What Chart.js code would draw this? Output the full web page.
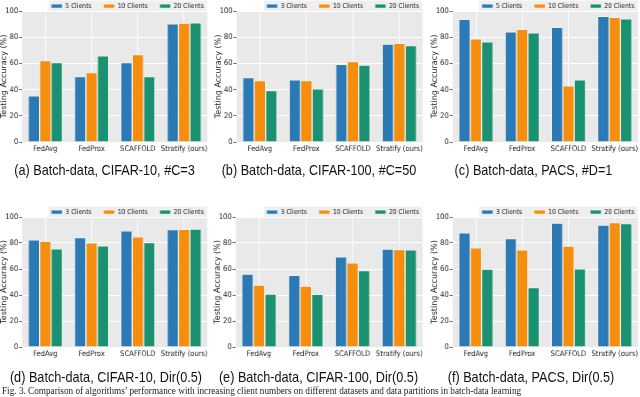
<!DOCTYPE html>
<html>
<head>
<meta charset="utf-8">
<script src="https://cdn.jsdelivr.net/npm/chart.js@4.4.1/dist/chart.umd.min.js"></script>
<style>
html, body { margin: 0; padding: 0; background: #fff; overflow: hidden; }
/* the source figure is squeezed horizontally, so lay it out wide and squeeze it the same way */
#fig { position: relative; width: 723px; height: 397px; transform: scaleX(0.886); transform-origin: 0 0; }
.cap { position: absolute; font-family: "Liberation Sans", Arial, sans-serif; font-size: 14.3px; line-height: 16px; color: #111; white-space: nowrap; transform: translateX(-50%); }
#figcap { position: absolute; font-family: "Liberation Serif", "Times New Roman", serif; font-size: 10.4px; line-height: 12px; color: #222; white-space: nowrap; }
</style>
</head>
<body>
<div id="fig"></div>
<script>
const SX = 0.886;

const methods = ['FedAvg', 'FedProx', 'SCAFFOLD', 'Stratify (ours)'];
const legend5 = ['5 Clients', '10 Clients', '20 Clients'];
const legend3 = ['3 Clients', '10 Clients', '20 Clients'];
const yTicks = [0, 20, 40, 60, 80, 100];

// (a) CIFAR-10, #C=3
const cifar10C3_small = [35.2, 50.0, 60.7, 90.3];
const cifar10C3_10 = [62.2, 53.0, 66.8, 90.8];
const cifar10C3_20 = [60.7, 65.8, 50.0, 91.0];
// (b) CIFAR-100, #C=50
const cifar100C50_small = [49.2, 47.4, 59.4, 74.7];
const cifar100C50_10 = [46.9, 46.9, 61.5, 75.3];
const cifar100C50_20 = [39.3, 40.6, 58.7, 73.7];
// (c) PACS, #D=1
const pacsD1_small = [93.6, 84.2, 87.5, 95.9];
const pacsD1_10 = [78.8, 86.0, 42.9, 95.2];
const pacsD1_20 = [76.5, 83.4, 47.4, 94.1];
// (d) CIFAR-10, Dir(0.5)
const cifar10Dir_small = [82.4, 84.2, 89.3, 90.3];
const cifar10Dir_10 = [81.4, 80.1, 84.7, 90.6];
const cifar10Dir_20 = [75.5, 77.8, 80.4, 90.8];
// (e) CIFAR-100, Dir(0.5)
const cifar100Dir_small = [56.1, 55.1, 69.4, 75.3];
const cifar100Dir_10 = [47.7, 46.9, 64.8, 75.0];
const cifar100Dir_20 = [40.8, 40.6, 58.9, 74.7];
// (f) PACS, Dir(0.5)
const pacsDir_small = [87.8, 83.4, 95.4, 93.9];
const pacsDir_10 = [76.3, 74.7, 77.6, 95.7];
const pacsDir_20 = [59.9, 45.7, 60.2, 94.9];

const colors = ['#2b79b5', '#f68e0d', '#1a9271'];

// plot boxes in page pixels (before the squeeze is undone)
const panels = [
    { L: 22, R: 207, T: 11, B: 142, names: legend5, series: [cifar10C3_small, cifar10C3_10, cifar10C3_20],
      caption: '(a) Batch-data, CIFAR-10, #C=3', cx: 104.5, cy: 162 },
    { L: 237, R: 423, T: 11, B: 142, names: legend3, series: [cifar100C50_small, cifar100C50_10, cifar100C50_20],
      caption: '(b) Batch-data, CIFAR-100, #C=50', cx: 319, cy: 162 },
    { L: 453, R: 638, T: 11, B: 142, names: legend5, series: [pacsD1_small, pacsD1_10, pacsD1_20],
      caption: '(c) Batch-data, PACS, #D=1', cx: 533.5, cy: 162 },
    { L: 22, R: 207, T: 217, B: 347, names: legend3, series: [cifar10Dir_small, cifar10Dir_10, cifar10Dir_20],
      caption: '(d) Batch-data, CIFAR-10, Dir(0.5)', cx: 106, cy: 369 },
    { L: 236, R: 423, T: 217, B: 347, names: legend3, series: [cifar100Dir_small, cifar100Dir_10, cifar100Dir_20],
      caption: '(e) Batch-data, CIFAR-100, Dir(0.5)', cx: 318.5, cy: 369 },
    { L: 453, R: 638, T: 217, B: 347, names: legend3, series: [pacsDir_small, pacsDir_10, pacsDir_20],
      caption: '(f) Batch-data, PACS, Dir(0.5)', cx: 531, cy: 369 }
];

const tickFamily = '"DejaVu Sans"';
const legendPad = 13.5;
const yAxisW = Math.round(22 / SX);
const rightPad = Math.round(9 / SX);

const panelLook = {
    id: 'panelLook',
    afterLayout(chart) {
        // lift the legend row to the top strip and keep the last item on the same row
        chart.legend.top -= legendPad - 2.7;
        if (chart.legend.lineWidths) chart.legend.lineWidths[0] += 0.5;
    },
    beforeDraw(chart) {
        const { ctx, chartArea: a } = chart;
        ctx.save();
        ctx.fillStyle = '#e9e9e9';
        ctx.fillRect(a.left, a.top, a.right - a.left, a.bottom - a.top);
        const hb = chart.legend.legendHitBoxes;
        if (hb && hb.length) {
            const last = hb[hb.length - 1];
            const x0 = hb[0].left - 3;
            const x1 = last.left + last.width + 3.5;
            ctx.fillStyle = '#efefef';
            ctx.fillRect(x0, 0.5, x1 - x0, a.top - 0.5);
        }
        ctx.restore();
    }
};

const fig = document.getElementById('fig');

panels.forEach(p => {
    const left = Math.round(p.L / SX) - yAxisW;
    const top = p.T - 11;
    const w = Math.round(p.R / SX) + rightPad - left;
    const h = p.B - p.T + 25;
    const cv = document.createElement('canvas');
    cv.width = w;
    cv.height = h;
    cv.style.cssText = 'position:absolute;left:' + left + 'px;top:' + top + 'px;width:' + w + 'px;height:' + h + 'px';
    fig.appendChild(cv);

    new Chart(cv, {
        type: 'bar',
        data: {
            labels: methods,
            datasets: p.series.map((vals, i) => ({
                label: p.names[i],
                data: vals,
                backgroundColor: colors[i],
                borderColor: 'rgba(255,255,255,0.8)',
                borderWidth: 0.7,
                categoryPercentage: 0.74,
                barPercentage: 1.0
            }))
        },
        options: {
            responsive: false,
            animation: false,
            devicePixelRatio: 1,
            layout: { padding: 0, autoPadding: false },
            plugins: {
                legend: {
                    position: 'top',
                    align: 'end',
                    maxHeight: 11,
                    labels: {
                        boxWidth: 12.4,
                        boxHeight: 4,
                        padding: legendPad,
                        color: '#222',
                        font: { family: tickFamily, size: 6.8 }
                    }
                },
                tooltip: { enabled: false }
            },
            scales: {
                x: {
                    grid: { color: '#ffffff', offset: false, drawTicks: false },
                    border: { display: false },
                    ticks: { padding: 2.5, color: '#1a1a1a', maxRotation: 0, autoSkip: false,
                             font: { family: tickFamily, size: 7.6 } },
                    afterFit: s => { s.height = 14; }
                },
                y: {
                    min: 0,
                    max: 100,
                    afterBuildTicks: s => { s.ticks = yTicks.map(v => ({ value: v })); },
                    grid: { color: '#ffffff', tickColor: '#444', tickLength: 3.5, tickWidth: 0.8 },
                    border: { display: false },
                    ticks: { padding: 1, color: '#1a1a1a', font: { family: tickFamily, size: 7.6 } },
                    title: { display: true, text: 'Testing Accuracy (%)', padding: 0, color: '#1a1a1a',
                             font: { family: tickFamily, size: 8 } },
                    afterFit: s => { s.width = yAxisW; }
                },
                pad: {
                    position: 'right',
                    grid: { display: false },
                    border: { display: false },
                    ticks: { display: false },
                    afterFit: s => { s.width = rightPad; }
                }
            }
        },
        plugins: [panelLook]
    });

    const cap = document.createElement('div');
    cap.className = 'cap';
    cap.style.left = (p.cx / SX) + 'px';
    cap.style.top = p.cy + 'px';
    cap.textContent = p.caption;
    fig.appendChild(cap);
});

const figcap = document.createElement('div');
figcap.id = 'figcap';
figcap.style.left = (2 / SX) + 'px';
figcap.style.top = '385px';
figcap.textContent = 'Fig. 3.  Comparison of algorithms\u2019 performance with increasing client numbers on different datasets and data partitions in batch-data learning';
fig.appendChild(figcap);
</script>
</body>
</html>
